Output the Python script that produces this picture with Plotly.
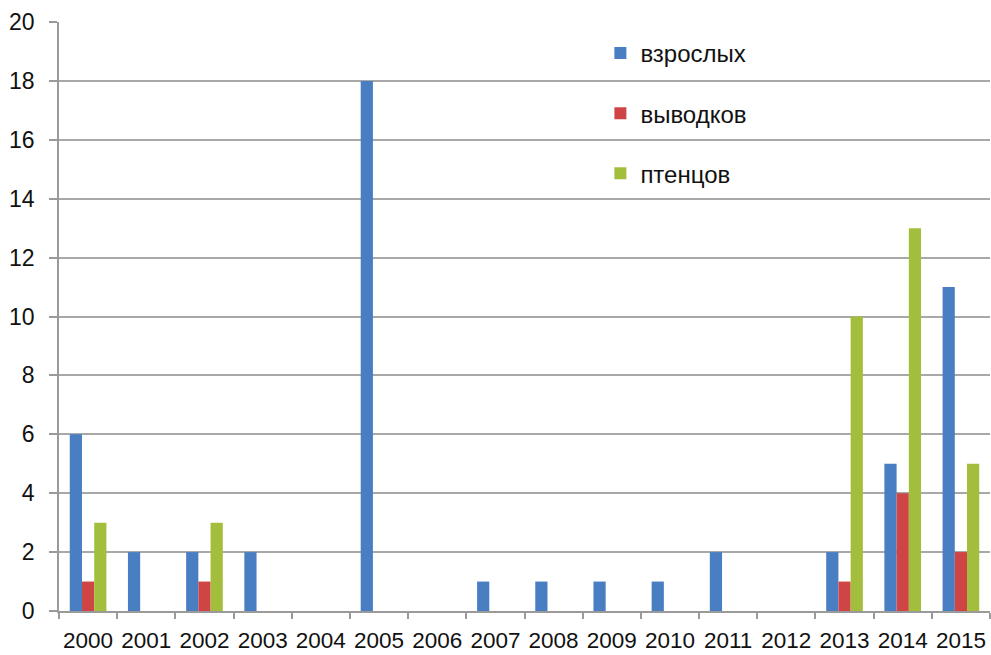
import plotly.graph_objects as go

years = [str(y) for y in range(2000, 2016)]
adults = [6, 2, 2, 2, 0, 18, 0, 1, 1, 1, 1, 2, 0, 2, 5, 11]
broods = [1, 0, 1, 0, 0, 0, 0, 0, 0, 0, 0, 0, 0, 1, 4, 2]
chicks = [3, 0, 3, 0, 0, 0, 0, 0, 0, 0, 0, 0, 0, 10, 13, 5]

series = [
    ("взрослых", adults, "#4A7EC2"),
    ("выводков", broods, "#CF4545"),
    ("птенцов", chicks, "#A3BE3D"),
]

fig = go.Figure()
for i, (name, vals, color) in enumerate(series):
    fig.add_trace(go.Bar(
        x=years, y=vals, name=name,
        marker=dict(color=color, line=dict(width=0)),
        legendgroup=f"g{i}",
    ))

font = "Liberation Sans, Arial, sans-serif"
fig.update_layout(
    width=991, height=655,
    margin=dict(l=59, r=1, t=22, b=44, autoexpand=False),
    paper_bgcolor="white", plot_bgcolor="white",
    barmode="group", bargap=0.37, bargroupgap=0,
    font=dict(family=font, size=22, color="#111111"),
    showlegend=True,
    legend=dict(
        x=0.5815, y=0.985, xanchor="left", yanchor="top",
        font=dict(size=24, color="#111111"),
        tracegroupgap=26, bgcolor="rgba(0,0,0,0)",
    ),
    xaxis=dict(
        type="category", tickson="boundaries", tickangle=0, automargin=False,
        ticks="outside", ticklen=6, tickcolor="#9a9a9a", tickwidth=1.5,
        showline=True, linecolor="#9a9a9a", linewidth=1.5,
        showgrid=False, tickfont=dict(size=22.5), ticklabelstandoff=8,
    ),
    yaxis=dict(
        range=[0, 20], dtick=2, automargin=False,
        ticks="outside", ticklen=8, tickcolor="#9a9a9a", tickwidth=1.5,
        showline=True, linecolor="#9a9a9a", linewidth=1.5,
        showgrid=True, gridcolor="#a8a8a8", gridwidth=1.5,
        zeroline=False, tickfont=dict(size=23), ticklabelstandoff=10,
    ),
)

fig.write_html("out.html")
